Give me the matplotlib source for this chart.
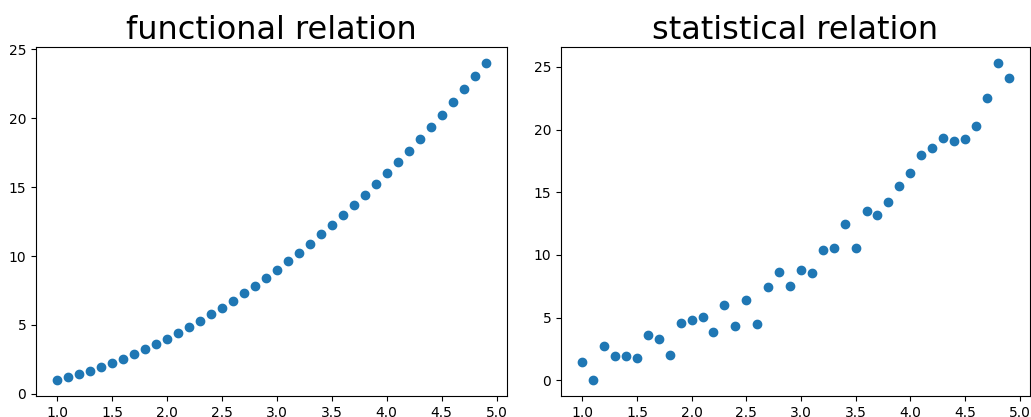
import matplotlib
matplotlib.use("Agg")
import matplotlib.pyplot as plt

# x positions shared by both panels
x_vals = [1.0, 1.1, 1.2, 1.3, 1.4, 1.5, 1.6, 1.7, 1.8, 1.9,
          2.0, 2.1, 2.2, 2.3, 2.4, 2.5, 2.6, 2.7, 2.8, 2.9,
          3.0, 3.1, 3.2, 3.3, 3.4, 3.5, 3.6, 3.7, 3.8, 3.9,
          4.0, 4.1, 4.2, 4.3, 4.4, 4.5, 4.6, 4.7, 4.8, 4.9]

# left panel: exact relation
func_vals = [1.00, 1.21, 1.44, 1.69, 1.96, 2.25, 2.56, 2.89, 3.24, 3.61,
             4.00, 4.41, 4.84, 5.29, 5.76, 6.25, 6.76, 7.29, 7.84, 8.41,
             9.00, 9.61, 10.24, 10.89, 11.56, 12.25, 12.96, 13.69, 14.44, 15.21,
             16.00, 16.81, 17.64, 18.49, 19.36, 20.25, 21.16, 22.09, 23.04, 24.01]

# right panel: noisy values
stat_vals = [1.45, 0.02, 2.72, 1.98, 1.93, 1.75, 3.62, 3.26, 2.06, 4.60,
             4.84, 5.05, 3.83, 5.98, 4.31, 6.43, 4.52, 7.41, 8.67, 7.54,
             8.80, 8.55, 10.40, 10.56, 12.44, 10.56, 13.49, 13.20, 14.23, 15.53,
             16.57, 17.94, 18.55, 19.29, 19.07, 19.21, 20.27, 22.52, 25.32, 24.10]

fig = plt.figure(figsize=(10.31, 4.17), dpi=100)
ax1 = fig.add_axes([0.0349, 0.0504, 0.4568, 0.837])
ax2 = fig.add_axes([0.5441, 0.0504, 0.4549, 0.837])

ax1.scatter(x_vals, func_vals)
ax1.set_title('functional relation', fontsize=23)

ax2.scatter(x_vals, stat_vals)
ax2.set_title('statistical relation', fontsize=23)

fig.savefig('out.png', dpi=100)
